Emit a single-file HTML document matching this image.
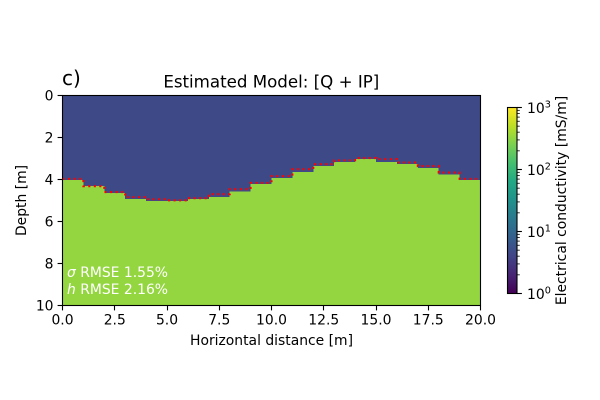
<!DOCTYPE html>
<html>
<head>
<meta charset="utf-8">
<style>
html,body{margin:0;padding:0;background:#fff;width:600px;height:400px;overflow:hidden}
svg{display:block}
text{font-family:"DejaVu Sans","Liberation Sans",sans-serif;fill:#000}
</style>
</head>
<body>
<svg id="chart" width="600" height="400" viewBox="0 0 600 400" xmlns="http://www.w3.org/2000/svg">
  <defs>
    <linearGradient id="viridis" x1="0" y1="1" x2="0" y2="0">
      <stop offset="0" stop-color="#440154"/>
      <stop offset="0.1" stop-color="#482475"/>
      <stop offset="0.2" stop-color="#414487"/>
      <stop offset="0.3" stop-color="#355f8d"/>
      <stop offset="0.4" stop-color="#2a788e"/>
      <stop offset="0.5" stop-color="#21918c"/>
      <stop offset="0.6" stop-color="#22a884"/>
      <stop offset="0.7" stop-color="#44bf70"/>
      <stop offset="0.8" stop-color="#7ad151"/>
      <stop offset="0.9" stop-color="#bddf26"/>
      <stop offset="1" stop-color="#fde725"/>
    </linearGradient>
  </defs>
  <g id="heatmap"></g>
  <path id="true-line" fill="none" stroke="#ff0000" stroke-width="2.08" stroke-dasharray="2.08 3.44"></path>
  <rect x="62.5" y="95.5" width="418" height="210" fill="none" stroke="#000" stroke-width="1.1"></rect>
  <g id="x-axis"></g>
  <g id="y-axis"></g>
  <text x="62" y="85" font-size="20px">c)</text>
  <text x="271.3" y="87.5" font-size="16.67px" text-anchor="middle">Estimated Model: [Q + IP]</text>
  <text x="271.5" y="345" font-size="13.9px" text-anchor="middle">Horizontal distance [m]</text>
  <text transform="translate(26,200.5) rotate(-90)" font-size="13.9px" text-anchor="middle">Depth [m]</text>
  <text x="67" y="277" font-size="13.9px" style="fill:#fff"><tspan font-style="italic" style="fill:#fff">σ</tspan> RMSE 1.55%</text>
  <text x="67" y="294" font-size="13.9px" style="fill:#fff"><tspan font-style="italic" style="fill:#fff">h</tspan> RMSE 2.16%</text>
  <rect x="507.5" y="107.5" width="9.5" height="186" fill="url(#viridis)" stroke="#000" stroke-width="1.1"></rect>
  <g id="colorbar-axis"></g>
  <text transform="translate(566,200.5) rotate(-90)" font-size="13.9px" text-anchor="middle">Electrical conductivity [mS/m]</text>
</svg>
<script>
// Data
const columnEdges = [0,1,2,3,4,5,6,7,8,9,10,11,12,13,14,15,16,17,18,19,20];
const estimatedDepth = [4.02,4.32,4.65,4.94,5.03,5.03,4.94,4.84,4.56,4.22,3.94,3.65,3.36,3.17,3.03,3.17,3.27,3.46,3.75,4.03];
const trueDepth = [3.97,4.32,4.60,4.84,4.94,4.99,4.89,4.70,4.46,4.16,3.84,3.51,3.27,3.09,2.98,3.03,3.19,3.36,3.67,3.97];
const upperConductivity = [4.6];
const lowerConductivity = [329];
const xTicks = [0,2.5,5,7.5,10,12.5,15,17.5,20];
const xTickLabels = ["0.0","2.5","5.0","7.5","10.0","12.5","15.0","17.5","20.0"];
const yTicks = [0,2,4,6,8,10];
const yTickLabels = ["0","2","4","6","8","10"];
const cbarExponents = [0,1,2,3];
const cbarMinorMultipliers = [2,3,4,5,6,7,8,9];
const viridisStops = ["#440154","#482475","#414487","#355f8d","#2a788e","#21918c","#22a884","#44bf70","#7ad151","#bddf26","#fde725"];

// Scales
const NS = "http://www.w3.org/2000/svg";
const xScale = v => 62.5 + (v - 0) / 20 * 418;
const yScale = v => 95.5 + (v - 0) / 10 * 210;
const cbarScale = v => 293.5 - (Math.log10(v) - 0) / 3 * 186;
const colorFor = v => {
  const t = Math.max(0, Math.min(1, Math.log10(v) / 3)) * (viridisStops.length - 1);
  const i = Math.min(Math.floor(t), viridisStops.length - 2);
  const f = t - i;
  const rgb = s => [1,3,5].map(k => parseInt(s.substr(k,2),16));
  const a = rgb(viridisStops[i]), b = rgb(viridisStops[i+1]);
  return "rgb(" + a.map((c,k) => Math.round(c + (b[k]-c)*f)).join(",") + ")";
};
function make(tag, attrs, parent) {
  const el = document.createElementNS(NS, tag);
  for (const k in attrs) el.setAttribute(k, attrs[k]);
  parent.appendChild(el);
  return el;
}

// Heatmap
const heatmap = document.getElementById("heatmap");
estimatedDepth.forEach((d, i) => {
  const x0 = xScale(columnEdges[i]), x1 = xScale(columnEdges[i+1]);
  const top = make("rect", {x:x0, y:yScale(0), width:x1-x0, height:yScale(d)-yScale(0), fill:colorFor(upperConductivity[0]), "shape-rendering":"crispEdges"}, heatmap);
  
  
  const bottom = make("rect", {x:x0, y:yScale(d), width:x1-x0, height:yScale(10)-yScale(d), fill:colorFor(lowerConductivity[0]), "shape-rendering":"crispEdges"}, heatmap);
  
  
});

// True interface (stepped line)
let linePath = "";
trueDepth.forEach((d, i) => {
  linePath += (i === 0 ? "M" : "L") + xScale(columnEdges[i]) + " " + yScale(d) + "L" + xScale(columnEdges[i+1]) + " " + yScale(d);
});
document.getElementById("true-line").setAttribute("d", linePath);

// X axis
const xAxis = document.getElementById("x-axis");
xTicks.forEach((v, i) => {
  const px = Math.round(xScale(v) - 0.5) + 0.5;
  const tick = make("line", {x1:px, x2:px, y1:305.5, y2:310.4, stroke:"#000", "stroke-width":1.1}, xAxis);
  
  
  const label = make("text", {x:xScale(v), y:324.5, "font-size":"13.9px", "text-anchor":"middle"}, xAxis);
  
  
  label.textContent = xTickLabels[i];
});

// Y axis
const yAxis = document.getElementById("y-axis");
yTicks.forEach((v, i) => {
  const py = Math.round(yScale(v) - 0.5) + 0.5;
  const tick = make("line", {x1:57.6, x2:62.5, y1:py, y2:py, stroke:"#000", "stroke-width":1.1}, yAxis);
  
  
  const label = make("text", {x:53.5, y:yScale(v)+5.2, "font-size":"13.9px", "text-anchor":"end"}, yAxis);
  
  
  label.textContent = yTickLabels[i];
});

// Colorbar axis
const cbarAxis = document.getElementById("colorbar-axis");
cbarExponents.forEach((e, idx) => {
  const value = Math.pow(10, e);
  const py = cbarScale(value);
  const tick = make("line", {x1:517, x2:521.9, y1:py, y2:py, stroke:"#000", "stroke-width":1.1}, cbarAxis);
  
  
  const label = make("text", {x:527, y:py+5.5, "font-size":"13.9px"}, cbarAxis);
  
  
  label.textContent = "10";
  const sup = make("tspan", {dy:-5.5, "font-size":"9.7px"}, label);
  sup.textContent = String(e);
  if (idx < cbarExponents.length - 1) {
    cbarMinorMultipliers.forEach(m => {
      const my = cbarScale(value * m);
      const minor = make("line", {x1:517, x2:519.8, y1:my, y2:my, stroke:"#000", "stroke-width":0.8}, cbarAxis);
      
      
    });
  }
});
</script>
</body>
</html>
